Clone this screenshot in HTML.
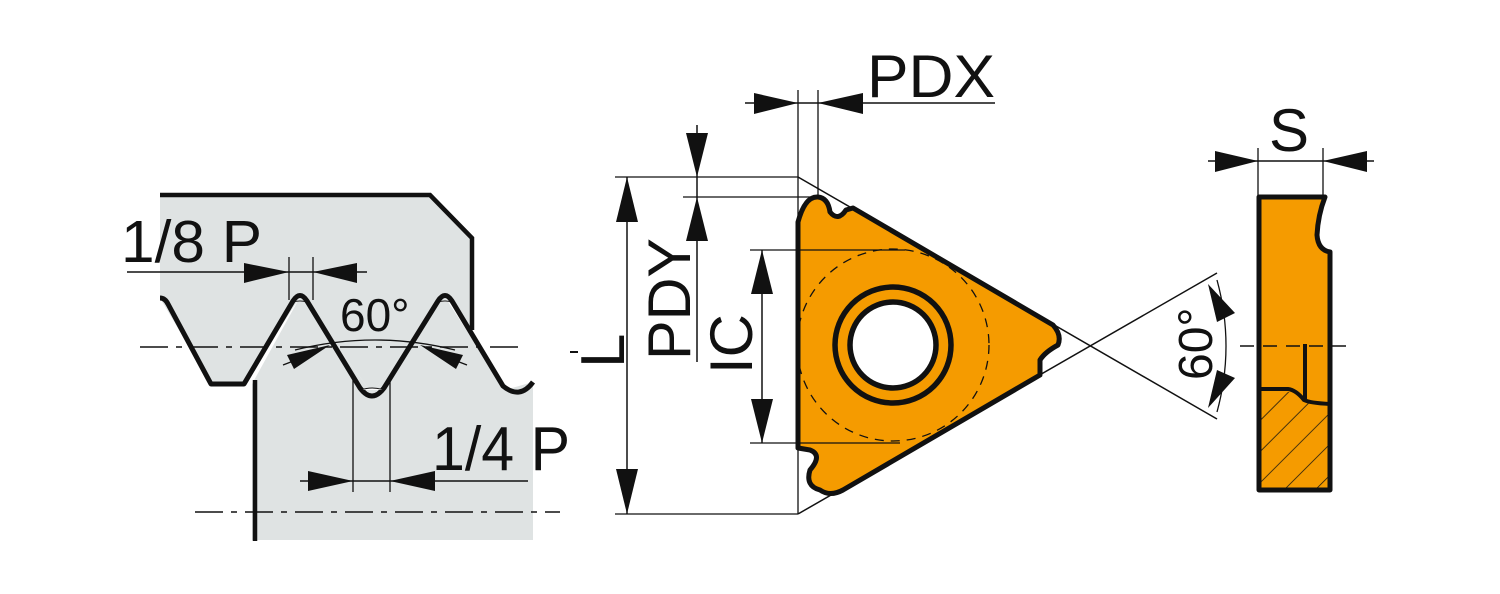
<!DOCTYPE html>
<html><head><style>
html,body{margin:0;padding:0;background:#fff;}
svg{display:block;}
text{font-family:"Liberation Sans",sans-serif;fill:#111;}
</style></head><body>
<svg width="1500" height="594" viewBox="0 0 1500 594" xmlns="http://www.w3.org/2000/svg">
<defs>
<pattern id="h" patternUnits="userSpaceOnUse" width="22" height="22" patternTransform="rotate(45)">
<line x1="0" y1="0" x2="0" y2="22" stroke="#111" stroke-width="1.5"/>
</pattern>
</defs>
<!-- LEFT: thread -->
<path d="M160,195 L430,195 L472,238 L472,330 L445,297 L372,393 L300,297 L244,384 L211,384 L160,298 Z" fill="#dfe3e3"/>
<path d="M252,384 L300,297 L372,393 L445,297 L505,390 L533,382 L533,540 L252,540 Z" fill="#dfe3e3"/>
<path d="M160,195 L430,195 L472,238 L472,330" fill="none" stroke="#111" stroke-width="4.5"/>
<path d="M160,298 Q165,298 168,304 L211,384 L244,384 L293,301 Q300,290 307,301 L360,388 Q372,404 384,388 L438,301 Q445,290 452,301 L503,386 Q520,400 533,382" fill="none" stroke="#111" stroke-width="5" stroke-linejoin="round"/>
<path d="M293,302 Q300,300 307,302 M361,390 Q372,386 384,390 M438,302 Q445,300 452,302" fill="#fff" stroke="#111" stroke-width="1"/>
<line x1="255" y1="380" x2="255" y2="541" stroke="#111" stroke-width="4.5"/>
<line x1="140" y1="347" x2="525" y2="347" stroke="#111" stroke-width="1.5" stroke-dasharray="28,8,6,8"/>
<line x1="195" y1="512" x2="560" y2="512" stroke="#111" stroke-width="1.5" stroke-dasharray="28,8,6,8"/>
<line x1="570" y1="352" x2="578" y2="352" stroke="#111" stroke-width="2"/>
<text x="121" y="262" font-size="59" textLength="141" lengthAdjust="spacingAndGlyphs">1/8 P</text>
<line x1="127" y1="272" x2="367" y2="272" stroke="#111" stroke-width="1.5"/>
<polygon points="244,263 244,283 289,272" fill="#111"/>
<polygon points="357,263 357,283 313,272" fill="#111"/>
<line x1="289" y1="257" x2="289" y2="300" stroke="#111" stroke-width="1.3"/>
<line x1="313" y1="257" x2="313" y2="300" stroke="#111" stroke-width="1.3"/>
<text x="340" y="331" font-size="46">60°</text>
<path d="M295,350 Q375,330 455,350" fill="none" stroke="#111" stroke-width="1.3"/>
<polygon points="294,369 287,355 330,345" fill="#111"/>
<polygon points="456,369 463,355 420,345" fill="#111"/>
<line x1="283" y1="365" x2="296" y2="360" stroke="#111" stroke-width="1.3"/>
<line x1="467" y1="365" x2="454" y2="360" stroke="#111" stroke-width="1.3"/>
<text x="432" y="470" font-size="62" textLength="138" lengthAdjust="spacingAndGlyphs">1/4 P</text>
<line x1="300" y1="481" x2="528" y2="481" stroke="#111" stroke-width="1.5"/>
<polygon points="308,471 308,491 353,481" fill="#111"/>
<polygon points="435,471 435,491 390,481" fill="#111"/>
<line x1="353" y1="380" x2="353" y2="492" stroke="#111" stroke-width="1.3"/>
<line x1="390" y1="380" x2="390" y2="492" stroke="#111" stroke-width="1.3"/>

<!-- MIDDLE: insert -->
<path d="M798,222 Q805,196 818,197 Q828,198 830,212 Q838,222 846,210 L853,208 L1053,325 Q1062,335 1058,345 Q1045,352 1040,360 L1040,375 L843,490 Q830,497 820,490 Q805,486 810,470 Q823,455 810,450 L798,448 Z" fill="#f59b00" stroke="#111" stroke-width="5" stroke-linejoin="round"/>
<circle cx="893" cy="345" r="96" fill="none" stroke="#111" stroke-width="1.3" stroke-dasharray="9,7"/>
<circle cx="893" cy="345" r="58" fill="none" stroke="#111" stroke-width="5.5"/>
<circle cx="893" cy="345" r="43" fill="#fff" stroke="#111" stroke-width="5.5"/>
<line x1="798" y1="177" x2="1217" y2="419" stroke="#111" stroke-width="1.5"/>
<line x1="798" y1="514" x2="1217" y2="273" stroke="#111" stroke-width="1.5"/>
<line x1="798" y1="90" x2="798" y2="514" stroke="#111" stroke-width="1.3"/>
<line x1="818" y1="90" x2="818" y2="198" stroke="#111" stroke-width="1.3"/>
<!-- PDX -->
<line x1="745" y1="103" x2="995" y2="103" stroke="#111" stroke-width="1.5"/>
<polygon points="754,93 754,114 798,103" fill="#111"/>
<polygon points="863,93 863,114 818,103" fill="#111"/>
<text x="867" y="97" font-size="60" textLength="128" lengthAdjust="spacingAndGlyphs">PDX</text>
<!-- L -->
<line x1="615" y1="177" x2="798" y2="177" stroke="#111" stroke-width="1.3"/>
<line x1="615" y1="514" x2="798" y2="514" stroke="#111" stroke-width="1.3"/>
<line x1="627" y1="177" x2="627" y2="514" stroke="#111" stroke-width="1.5"/>
<polygon points="616,222 638,222 627,177" fill="#111"/>
<polygon points="616,469 638,469 627,514" fill="#111"/>
<text x="0" y="0" font-size="62" transform="translate(624,368) rotate(-90)">L</text>
<!-- PDY -->
<line x1="683" y1="197" x2="818" y2="197" stroke="#111" stroke-width="1.3"/>
<line x1="697" y1="125" x2="697" y2="362" stroke="#111" stroke-width="1.5"/>
<polygon points="686,133 708,133 697,177" fill="#111"/>
<polygon points="686,241 708,241 697,197" fill="#111"/>
<text x="0" y="0" font-size="60" transform="translate(690,360) rotate(-90)" textLength="122" lengthAdjust="spacingAndGlyphs">PDY</text>
<!-- IC -->
<line x1="750" y1="250" x2="905" y2="250" stroke="#111" stroke-width="1.3"/>
<line x1="750" y1="443" x2="900" y2="443" stroke="#111" stroke-width="1.3"/>
<line x1="762" y1="250" x2="762" y2="443" stroke="#111" stroke-width="1.5"/>
<polygon points="751,294 773,294 762,250" fill="#111"/>
<polygon points="751,399 773,399 762,443" fill="#111"/>
<text x="0" y="0" font-size="60" transform="translate(752,374) rotate(-90)">IC</text>
<!-- 60 right -->
<path d="M1217,280 Q1235,346 1217,412" fill="none" stroke="#111" stroke-width="1.3"/>
<polygon points="1208,284 1235,313 1217,322" fill="#111"/>
<polygon points="1208,408 1235,378 1217,370" fill="#111"/>
<text x="0" y="0" font-size="48" transform="translate(1212,380) rotate(-90)">60°</text>

<!-- RIGHT: side view -->
<path d="M1259,197 L1325,197 Q1318,215 1317,235 Q1318,250 1330,252 L1330,490 L1259,490 Z" fill="#f59b00"/>
<path d="M1259,392 L1290,392 Q1300,396 1305,402 L1330,406 L1330,490 L1259,490 Z" fill="url(#h)"/>
<path d="M1259,389 L1288,389 Q1296,390 1304,400 Q1310,403 1330,404" fill="none" stroke="#111" stroke-width="4"/>
<line x1="1305" y1="344" x2="1305" y2="400" stroke="#111" stroke-width="4"/>
<path d="M1259,197 L1325,197 Q1318,215 1317,235 Q1318,250 1330,252 L1330,490 L1259,490 Z" fill="none" stroke="#111" stroke-width="5" stroke-linejoin="round"/>
<line x1="1240" y1="346" x2="1350" y2="346" stroke="#111" stroke-width="1.5" stroke-dasharray="14,9"/>
<line x1="1258" y1="148" x2="1258" y2="197" stroke="#111" stroke-width="1.3"/>
<line x1="1323" y1="148" x2="1323" y2="197" stroke="#111" stroke-width="1.3"/>
<line x1="1208" y1="161" x2="1374" y2="161" stroke="#111" stroke-width="1.5"/>
<polygon points="1215,151 1215,172 1258,161" fill="#111"/>
<polygon points="1367,151 1367,172 1323,161" fill="#111"/>
<text x="1269" y="151" font-size="60">S</text>
</svg>
</body></html>
